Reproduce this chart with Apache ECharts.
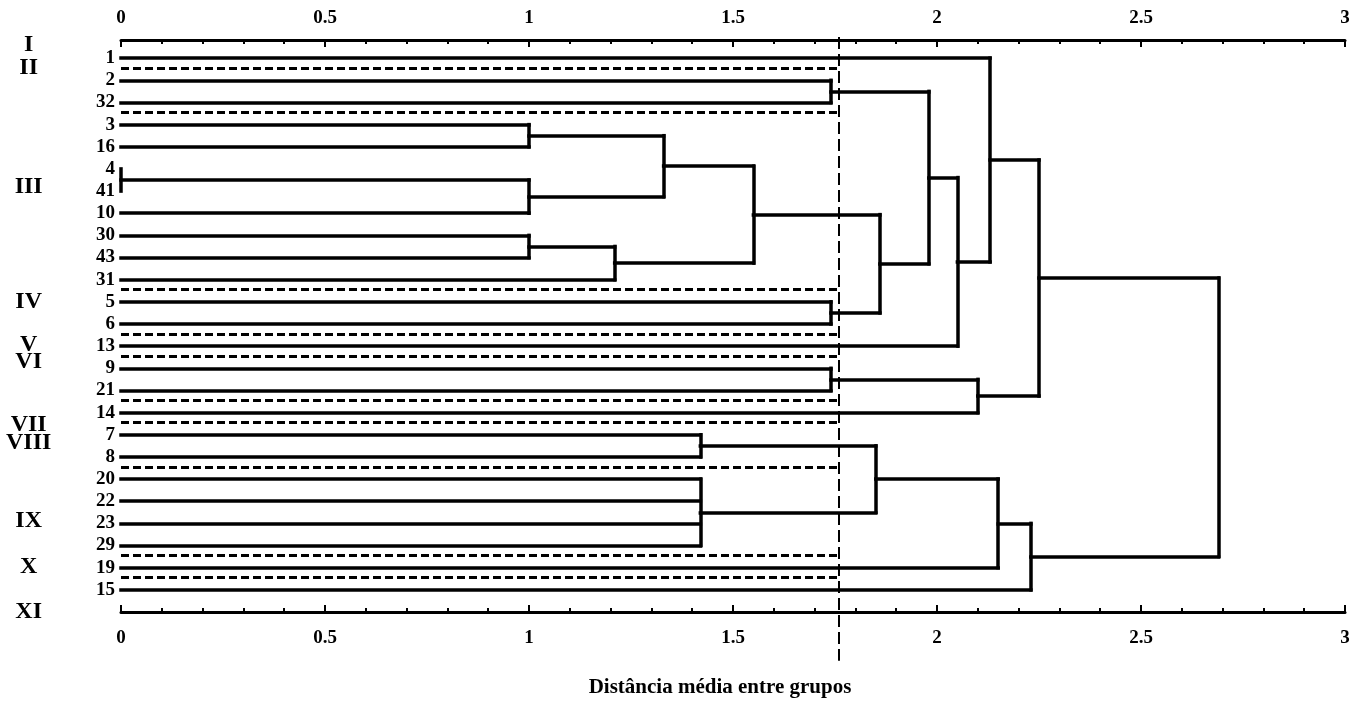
<!DOCTYPE html>
<html><head><meta charset="utf-8">
<script src="https://cdn.jsdelivr.net/npm/echarts@6/dist/echarts.min.js"></script>
<style>html,body{margin:0;padding:0;background:#fff}#c{width:1366px;height:704px}</style>
</head><body><div id="c"></div>
<script>
// ---- data ----
const leaves = ['1','2','32','3','16','4','41','10','30','43','31','5','6','13','9','21','14','7','8','20','22','23','29','19','15'];
// each merge joins leaf indices (numbers) or earlier merges ('m<k>')
const mergeChildren = [
  [5,6], [3,4], ['m0',7], [8,9], ['m3',10], ['m1','m2'], ['m5','m4'],
  [1,2], [11,12], ['m6','m8'], ['m7','m9'], ['m10',13], [0,'m11'],
  [14,15], ['m13',16], ['m12','m14'],
  [17,18], [19,20,21,22], ['m16','m17'], ['m18',23], ['m19',24],
  ['m15','m20']
];
const mergeHeights = [0, 1.0, 1.0, 1.0, 1.21, 1.33, 1.55, 1.74, 1.74, 1.86, 1.98, 2.05, 2.13,
  1.74, 2.1, 2.25, 1.42, 1.42, 1.85, 2.15, 2.23, 2.69];
const groupNames = ['I','II','III','IV','V','VI','VII','VIII','IX','X','XI'];
const groupPos = [-0.6, 0.45, 5.85, 11.0, 12.95, 13.75, 16.55, 17.4, 20.9, 23.0, 25.0];
const separatorAfter = [0, 2, 10, 12, 13, 15, 16, 18, 22, 23];
const cutHeight = 1.76;
const xTickLabels = ['0','0.5','1','1.5','2','2.5','3'];
const xAxisTitle = 'Distância média entre grupos';

// ---- layout of the tree (data coordinates) ----
const mX = [], mY = [];
function node(c){
  if (typeof c === 'number') return {x: 0, y: c};
  const k = +c.slice(1); return {x: mX[k], y: mY[k]};
}
const solidSegs = [];
mergeChildren.forEach((ch, i) => {
  const h = mergeHeights[i];
  const pts = ch.map(node);
  const ys = pts.map(p => p.y);
  const y0 = Math.min(...ys), y1 = Math.max(...ys);
  pts.forEach(p => { if (h - p.x > 1e-9) solidSegs.push({coords: [[p.x, p.y], [h, p.y]]}); });
  solidSegs.push({coords: [[h, y0], [h, y1]]});
  mX[i] = h; mY[i] = (y0 + y1) / 2;
});
const dashSegs = separatorAfter.map(i => ({coords: [[0, i + 0.45], [cutHeight, i + 0.45]]}));
const cutSeg = [{coords: [[cutHeight, -0.95], [cutHeight, 27.2]]}];

const serif = "'Liberation Serif','DejaVu Serif',serif";
function xAxisCfg(pos, margin, extra){
  return Object.assign({
    type: 'value', position: pos, min: 0, max: 3, interval: 0.5,
    axisLine: {show: true, onZero: false, lineStyle: {color: '#000', width: 3}},
    axisTick: {show: true, inside: true, length: 7, lineStyle: {color: '#000', width: 2}},
    minorTick: {show: true, splitNumber: 5, length: 4, lineStyle: {color: '#000', width: 2}},
    splitLine: {show: false},
    axisLabel: {color: '#000', fontFamily: serif, fontWeight: 'bold', fontSize: 19, margin: margin,
      formatter: v => xTickLabels[Math.round(v / 0.5)] ?? ''}
  }, extra);
}

const chart = echarts.init(document.getElementById('c'));
chart.setOption({
  animation: false,
  backgroundColor: '#fff',
  grid: {left: 121, right: 21, top: 36, height: 576, containLabel: false, outerBoundsMode: 'none'},
  xAxis: [
    xAxisCfg('bottom', 17, {
      name: xAxisTitle, nameLocation: 'middle', nameGap: 65,
      nameTextStyle: {color: '#000', fontFamily: serif, fontWeight: 'bold', fontSize: 21, padding: [0, 26, 0, 0]}}),
    xAxisCfg('top', 12, {offset: -4})
  ],
  yAxis: {
    type: 'value', inverse: true, min: -1, max: 25, interval: 1,
    axisLine: {show: false}, axisTick: {show: false}, splitLine: {show: false},
    axisLabel: {color: '#000', fontFamily: serif, fontWeight: 'bold', fontSize: 19, margin: 6,
      formatter: v => leaves[v] ?? ''}
  },
  series: [
    {type: 'lines', coordinateSystem: 'cartesian2d', silent: true, clip: false,
     lineStyle: {color: '#000', width: 3.5, opacity: 1, cap: 'square'}, data: solidSegs},
    {type: 'lines', coordinateSystem: 'cartesian2d', silent: true, clip: false,
     lineStyle: {color: '#000', width: 3, opacity: 1, type: [8, 4]}, data: dashSegs},
    {type: 'lines', coordinateSystem: 'cartesian2d', silent: true, clip: false,
     lineStyle: {color: '#000', width: 2, opacity: 1, type: [12, 5]}, data: cutSeg},
    {type: 'scatter', clip: false, silent: true, symbolSize: 1, itemStyle: {color: 'rgba(0,0,0,0)'},
     data: groupPos.map((y, i) => [-0.225, y, groupNames[i]]),
     label: {show: true, position: [0, 0], align: 'center', verticalAlign: 'middle',
       formatter: p => p.value[2], color: '#000', opacity: 1,
       fontFamily: serif, fontWeight: 'bold', fontSize: 24}}
  ]
});
</script></body></html>
